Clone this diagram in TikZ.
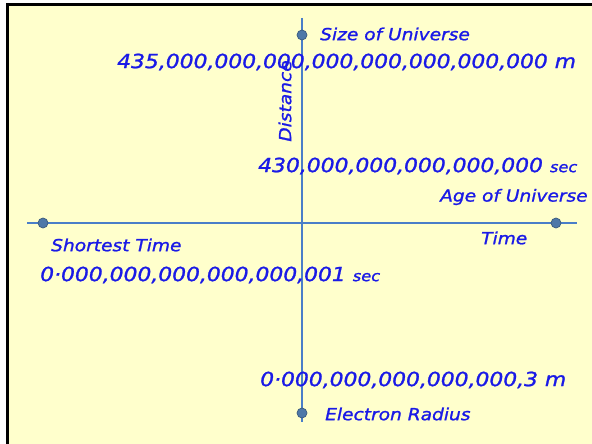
\documentclass[tikz,border=0pt]{standalone}
\usepackage{fontspec}
\setmainfont[FakeStretch=1.12,FakeBold=1.2]{DejaVu Sans}
\usetikzlibrary{positioning}
\definecolor{unibg}{HTML}{FFFFCC}
\definecolor{uniblue}{HTML}{1A1AE6}
\definecolor{uniaxis}{HTML}{4A7EC8}
\definecolor{unidot}{HTML}{4E78A8}
\newcommand{\unitsec}{{\itshape\fontsize{14.5}{17}\selectfont sec}}

\begin{document}
\begin{tikzpicture}[x=1pt,y=-1pt,
  lbl/.style={text=uniblue,font=\itshape\fontsize{16.6}{19}\selectfont,
              inner sep=0pt,anchor=west},
  big/.style={text=uniblue,font=\itshape\fontsize{19.5}{22}\selectfont,
              inner sep=0pt,anchor=west},
  dot/.style={circle,draw=unidot!75!black,fill=unidot,line width=0.7pt,
              minimum size=10pt,inner sep=0pt},
  axis/.style={draw=uniaxis,line width=1.1pt}]
% frame and paper
\useasboundingbox (0,0) rectangle (592,444);
\fill[unibg] (7.5,4.5) rectangle (592,444);
\draw[black,line width=3pt] (7.5,444) -- (7.5,4.5) -- (592,4.5);

% axes
\coordinate (vtop) at (302,18);
\coordinate (vbot) at (302,422);
\coordinate (hleft) at (27,223);
\coordinate (hright) at (577,223);
\draw[axis] (vtop) -- (vbot);
\draw[axis] (hleft) -- (hright);

\node[dot] (dsize) at (302,35) {};
\node[dot] (delec) at (302,413) {};
\node[dot] (dshort) at (43,223) {};
\node[dot] (dage) at (556,223) {};

% distance labels
\node[lbl] (sizeU) at (320,34) {Size of Universe};
\node[big] (sizeV) at (117,62) {435,000,000,000,000,000,000,000,000 m};
\node[lbl,rotate=90,anchor=center] (dist) at (285,101) {Distance};
\node[big] (elecV) at (260,380) {0·000,000,000,000,000,3 m};
\node[lbl] (elecR) at (325,414) {Electron Radius};

% time labels
\node[big] (ageV) at (258,166) {430,000,000,000,000,000 \unitsec};
\node[lbl] (ageU) at (440,197) {Age of Universe};
\node[lbl] (time) at (481,238) {Time};
\node[lbl] (shortT) at (51,245) {Shortest Time};
\node[big] (shortV) at (40,275) {0·000,000,000,000,000,001 \unitsec};
\end{tikzpicture}
\end{document}
